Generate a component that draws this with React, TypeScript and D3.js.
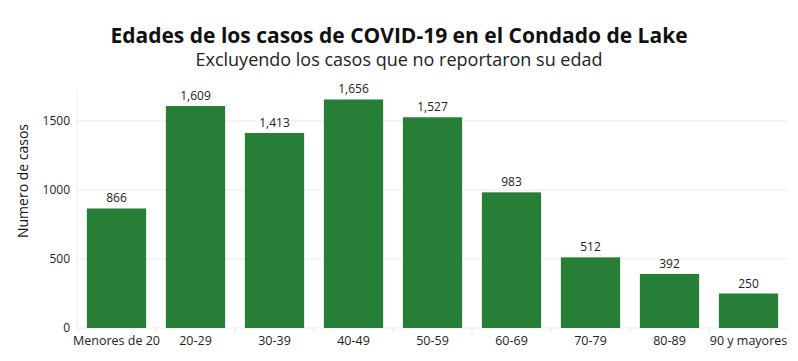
import * as d3 from "d3";

const categories = [
  "Menores de 20",
  "20-29",
  "30-39",
  "40-49",
  "50-59",
  "60-69",
  "70-79",
  "80-89",
  "90 y mayores",
];
const casos = [866, 1609, 1413, 1656, 1527, 983, 512, 392, 250];
const yTicks = [0, 500, 1000, 1500];

const W = 798;
const H = 361;
const FONT = "'Open Sans', 'Noto Sans', sans-serif";

export default function App() {
  const margin = { top: 72, right: 10, bottom: 33, left: 77 };

  const x = d3
    .scaleBand()
    .domain(categories)
    .range([margin.left, W - margin.right])
    .paddingInner(0.25)
    .paddingOuter(0.125);

  const y = d3
    .scaleLinear()
    .domain([0, 1730])
    .range([H - margin.bottom, H - margin.bottom - 1730 * (69 / 500)]);

  const fmt = d3.format(",");
  const step = x.step();

  return (
    <svg
      width={W}
      height={H}
      style={{ position: "absolute", left: 0, top: 0, fontFamily: FONT }}
    >
      <rect width={W} height={H} fill="#fff" />
      <text x={399} y={43} textAnchor="middle" fontSize={21} fontWeight={700} fill="#111">
        Edades de los casos de COVID-19 en el Condado de Lake
      </text>
      <text x={399} y={66} textAnchor="middle" fontSize={18} fill="#222">
        Excluyendo los casos que no reportaron su edad
      </text>

      {/* grid */}
      {yTicks.map((t) => (
        <g key={t}>
          <line x1={margin.left} x2={W - margin.right} y1={y(t)} y2={y(t)} stroke="#ececec" />
          <text x={70} y={y(t) + 4} textAnchor="end" fontSize={12} fill="#222">
            {t}
          </text>
        </g>
      ))}
      <line x1={margin.left} x2={margin.left} y1={y(0) + 5} y2={y(1730)} stroke="#f0f0f0" />
      {categories.slice(1).map((c) => {
        const bx = (x(c) ?? 0) - (step - x.bandwidth()) / 2;
        return (
          <line key={c} x1={bx} x2={bx} y1={y(0)} y2={y(0) + 5} stroke="#e6e6e6" />
        );
      })}

      {/* bars */}
      {categories.map((c, i) => {
        const bx = x(c) ?? 0;
        const bw = x.bandwidth();
        return (
          <g key={c}>
            <rect x={bx} y={y(casos[i])} width={bw} height={y(0) - y(casos[i])} fill="#267e37" />
            <text x={bx + bw / 2} y={y(casos[i]) - 6} textAnchor="middle" fontSize={12} fill="#222">
              {fmt(casos[i])}
            </text>
            <text x={bx + bw / 2} y={y(0) + 17} textAnchor="middle" fontSize={12.5} fill="#222">
              {c}
            </text>
          </g>
        );
      })}

      <text
        transform="translate(28, 181) rotate(-90)"
        textAnchor="middle"
        fontSize={14}
        fill="#111"
      >
        Numero de casos
      </text>
    </svg>
  );
}
